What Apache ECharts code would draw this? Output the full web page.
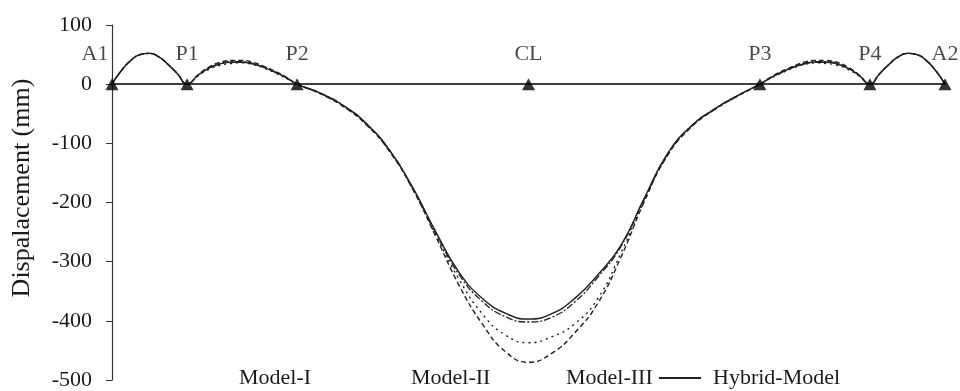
<!DOCTYPE html>
<html>
<head>
<meta charset="utf-8">
<script src="https://cdn.jsdelivr.net/npm/echarts@6/dist/echarts.min.js"></script>
<style>
  html, body { margin: 0; padding: 0; background: #fff; }
  #chart { width: 960px; height: 391px; }
</style>
</head>
<body>
<div id="chart"></div>
<script>
// distance along the bridge (m), shared by all four curves
const stations = [
  0, 3.75, 7.5, 11.25, 15, 18.75, 22.5, 26.25, 30,
  34.4, 38.8, 43.2, 47.6, 52, 56.4, 60.8, 65.2, 69.6, 74,
  83.25, 92.5, 101.75, 111, 120.25, 129.5, 138.75, 148, 157.25, 166.5,
  175.75, 185, 194.25, 203.5, 212.75, 222, 231.25, 240.5, 249.75, 259,
  263.4, 267.8, 272.2, 276.6, 281, 285.4, 289.8, 294.2, 298.6, 303,
  306.75, 310.5, 314.25, 318, 321.75, 325.5, 329.25, 333
];

const modelI = [
  0, 23, 40, 50, 52, 46, 33, 17, 0,
  16, 29, 37, 40, 40, 37, 30, 22, 12, 0,
  -16, -38, -69, -114, -178, -258, -340, -405, -452, -470,
  -455, -420, -370, -292, -199, -121, -74, -44, -21, 0,
  12, 22, 30, 37, 40, 40, 37, 29, 16, 0,
  17, 33, 46, 52, 50, 40, 23, 0
];

const modelII = [
  0, 23, 40, 50, 52, 46, 33, 17, 0,
  14, 25, 32, 35, 36, 33, 27, 19, 10, 0,
  -16, -37, -68, -113, -177, -255, -330, -388, -424, -437,
  -427, -405, -362, -285, -197, -120, -73, -44, -21, 0,
  10, 19, 27, 33, 36, 35, 32, 25, 14, 0,
  17, 33, 46, 52, 50, 40, 23, 0
];

const modelIII = [
  0, 23, 40, 50, 52, 46, 33, 17, 0,
  15, 27, 35, 38, 38, 35, 29, 21, 11, 0,
  -15, -36, -67, -112, -176, -252, -322, -367, -393, -402,
  -394, -368, -326, -274, -194, -119, -72, -43, -20, 0,
  11, 21, 29, 35, 38, 38, 35, 27, 15, 0,
  17, 33, 46, 52, 50, 40, 23, 0
];

const hybridModel = [
  0, 23, 40, 50, 52, 46, 33, 17, 0,
  15, 27, 34, 37, 37, 34, 28, 20, 11, 0,
  -15, -36, -67, -112, -175, -250, -318, -362, -387, -397,
  -388, -362, -322, -272, -193, -118, -72, -43, -20, 0,
  11, 20, 28, 34, 37, 37, 34, 27, 15, 0,
  17, 33, 46, 52, 50, 40, 23, 0
];

// supports: abutments, piers and centre line
const supportNames = ["A1", "P1", "P2", "CL", "P3", "P4", "A2"];
const supportPos = [0, 30, 74, 166.5, 259, 303, 333];

const yTicks = [-500, -400, -300, -200, -100, 0, 100];

const FONT = "Liberation Serif";
const INK = "#1a1a1a";

const chart = echarts.init(document.getElementById("chart"));

const pair = (vals) => stations.map((x, i) => [x, vals[i]]);

const curve = (name, vals, type, width) => ({
  name: name,
  type: "line",
  data: pair(vals),
  smooth: 0.5,
  symbol: "none",
  itemStyle: { color: "#222" },
  lineStyle: { color: "#222", width: width, type: type },
  z: 3,
});

// legend entries placed one by one, the dashed ones show no icon
const legendAt = (name, left, showIcon) => ({
  left: left,
  top: 367,
  padding: 0,
  itemWidth: 42,
  itemHeight: 14,
  data: [
    showIcon
      ? { name: name, itemStyle: { opacity: 0 } }
      : { name: name, lineStyle: { opacity: 0 }, itemStyle: { opacity: 0 } },
  ],
  textStyle: {
    fontFamily: FONT,
    fontSize: 22,
    color: INK,
    padding: showIcon ? [0, 0, 0, 7] : 0,
  },
});

chart.setOption({
  animation: false,
  backgroundColor: "#fff",
  grid: { left: 112, right: 15, top: 25, bottom: 6 },
  legend: [
    legendAt("Model-I", 191, false),
    legendAt("Model-II", 363, false),
    legendAt("Model-III", 518, false),
    legendAt("Hybrid-Model", 658, true),
  ],
  xAxis: {
    type: "value",
    min: 0,
    max: 333,
    axisLine: { show: true, onZero: true, lineStyle: { color: "#000", width: 1.5 } },
    axisTick: { show: false },
    axisLabel: { show: false },
    splitLine: { show: false },
  },
  yAxis: {
    type: "value",
    min: yTicks[0],
    max: yTicks[yTicks.length - 1],
    interval: 100,
    axisLine: { show: true, lineStyle: { color: "#333", width: 1.2 } },
    axisTick: { show: true, inside: false, length: 6, lineStyle: { color: "#333" } },
    axisLabel: {
      margin: 20,
      fontFamily: FONT,
      fontSize: 22,
      color: INK,
    },
    splitLine: { show: false },
  },
  graphic: [
    {
      type: "text",
      x: 22,
      y: 188,
      rotation: Math.PI / 2,
      style: {
        text: "Dispalacement (mm)",
        font: "26px '" + FONT + "'",
        fill: INK,
        align: "center",
        verticalAlign: "middle",
      },
    },
  ],
  series: [
    curve("Model-I", modelI, [5, 3], 1.4),
    curve("Model-II", modelII, [2, 4], 1.4),
    curve("Model-III", modelIII, [7, 2, 2, 2], 1.3),
    curve("Hybrid-Model", hybridModel, "solid", 1.4),
    {
      name: "supports",
      type: "scatter",
      symbol: "triangle",
      symbolSize: [13, 12],
      itemStyle: { color: "#000" },
      z: 5,
      data: supportPos.map((x, i) => ({
        value: [x, 0],
        label: {
          show: true,
          position: "top",
          distance: 13,
          offset: i === 0 ? [-17, 0] : [0, 0],
          formatter: supportNames[i],
          fontFamily: FONT,
          fontSize: 22,
          color: INK,
        },
      })),
    },
  ],
});
</script>
</body>
</html>
